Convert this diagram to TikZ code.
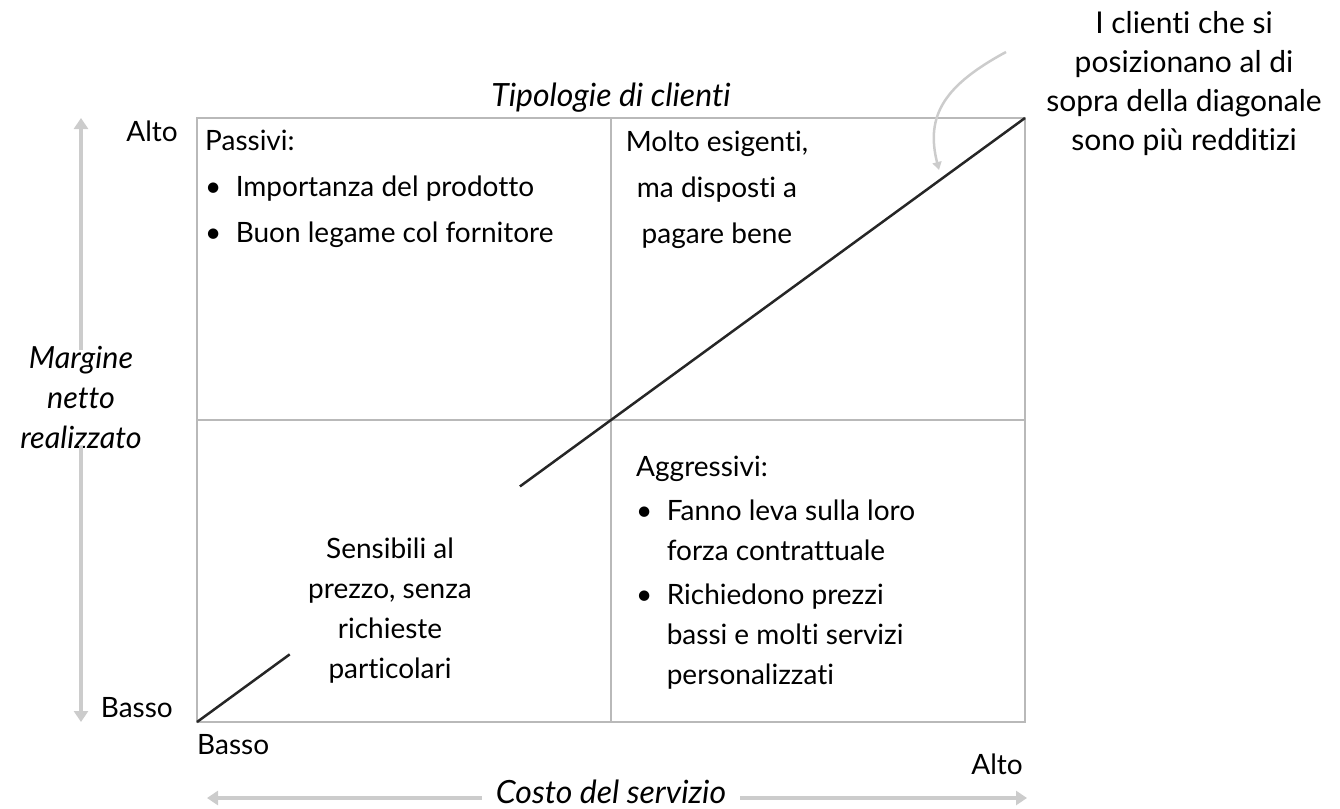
\documentclass[tikz,border=0pt]{standalone}
\usepackage{fontspec}
\setmainfont{Lato}[Ligatures=NoCommon]
\usetikzlibrary{arrows.meta,calc}

\tikzset{
  grid/.style={draw=gray!55,line width=2pt},
  axisarrow/.style={draw=gray!40,line width=4pt,-{Triangle[width=14pt,length=11pt]}},
  lbl/.style={inner sep=0pt,font=\fontsize{28}{40}\selectfont},
  ital/.style={inner sep=0pt,font=\fontsize{32}{40}\selectfont\itshape},
  quad/.style={lbl,align=left,anchor=north west},
}

\begin{document}
\begin{tikzpicture}[x=1pt,y=-1pt]
  \useasboundingbox (0,0) rectangle (1340,808);

  % the matrix
  \coordinate (bl) at (197,722);
  \coordinate (tr) at (1025,118);
  \draw[grid] (bl) rectangle (tr);
  \draw[grid] (611,118) -- (611,722);
  \draw[grid] (197,420) -- (1025,420);

  % diagonal, broken by the text
  \coordinate (d1) at ($(bl)!0.112!(tr)$);
  \coordinate (d2) at ($(bl)!0.390!(tr)$);
  \draw[line width=2.5pt,black!85] (bl) -- (d1);
  \draw[line width=2.5pt,black!85] (d2) -- (tr);

  \node[ital] (title) at (611,98) {Tipologie di clienti};

  % axis labels
  \node[lbl,anchor=east] (yhi) at (178,131) {Alto};
  \node[lbl,anchor=east] (ylo) at (173,708) {Basso};
  \node[lbl,anchor=west] (xlo) at (197,745) {Basso};
  \node[lbl,anchor=east] (xhi) at (1023,764) {Alto};

  \node[ital,align=center,font=\fontsize{30.5}{40}\selectfont\itshape] (ytext) at (81,397)
    {Margine\\netto\\realizzato};
  \node[ital] (xtext) at (611,792) {Costo del servizio};

  \coordinate (ytop) at (81,118);
  \coordinate (ybot) at (81,722);
  \coordinate (xleft) at (207,798);
  \coordinate (xright) at (1027,798);
  \draw[axisarrow] ([yshift=-12pt]ytext.north) ++(0,-8) -- (ytop);
  \draw[axisarrow] ([yshift=10pt]ytext.south) ++(0,8) -- (ybot);
  \draw[axisarrow] (xtext.west) ++(-14,6) -- (xleft);
  \draw[axisarrow] (xtext.east) ++(14,6) -- (xright);

  % quadrants
  \node[quad] (passivi) at (205,130)
    {Passivi:\\[6pt]
     \textbullet\ \ Importanza del prodotto\\[6pt]
     \textbullet\ \ Buon legame col fornitore};
  \node[lbl,align=center,anchor=north,font=\fontsize{28}{46}\selectfont] (esigenti) at (717,131)
    {Molto esigenti,\\ma disposti a\\pagare bene};
  \node[lbl,align=center] (sensibili) at (390,611)
    {Sensibili al\\prezzo, senza\\richieste\\particolari};
  \node[quad] (aggressivi) at (636,456)
    {Aggressivi:\\[4pt]
     \textbullet\ \ Fanno leva sulla loro\\
     \phantom{\textbullet\ \ }forza contrattuale\\[4pt]
     \textbullet\ \ Richiedono prezzi\\
     \phantom{\textbullet\ \ }bassi e molti servizi\\
     \phantom{\textbullet\ \ }personalizzati};

  % note with curved arrow
  \node[lbl,align=center,font=\fontsize{30}{39}\selectfont] (note) at (1184,84)
    {I clienti che si\\posizionano al di\\sopra della diagonale\\sono pi\`u redditizi};
  \coordinate (cfrom) at (1006,52);
  \coordinate (cto) at (939,170);
  \draw[draw=gray!40,line width=2.5pt,-{Triangle[width=9pt,length=8pt]}]
    (cfrom) .. controls (945,85) and (925,115) .. (cto);
\end{tikzpicture}
\end{document}
